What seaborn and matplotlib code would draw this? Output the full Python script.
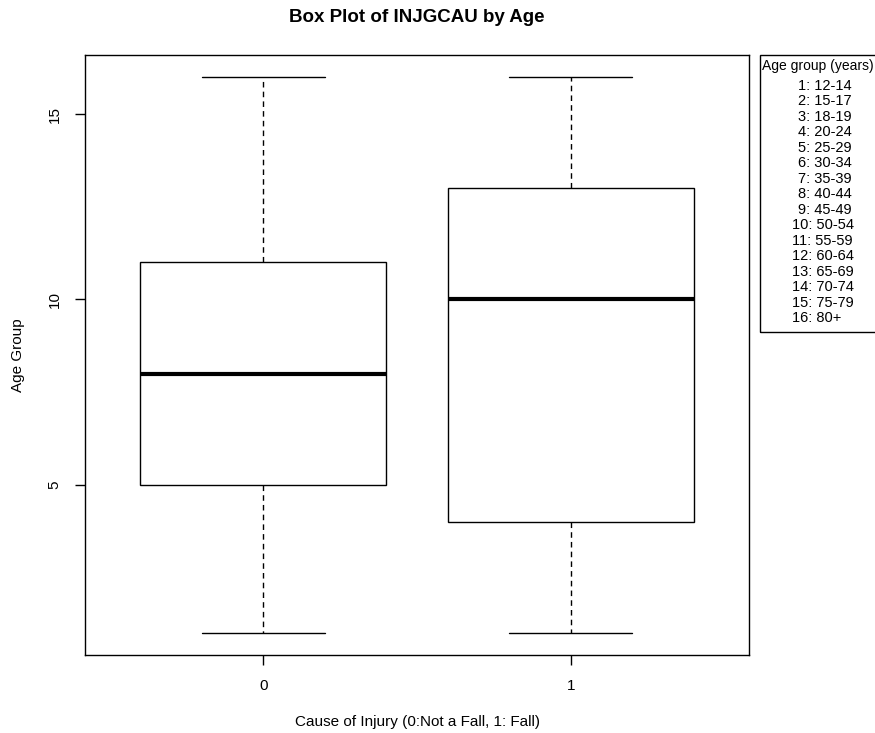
import matplotlib
matplotlib.use("Agg")
import matplotlib.pyplot as plt
from matplotlib.patches import Rectangle
import pandas as pd
import seaborn as sns

# five-number summaries (min, Q1, median, Q3, max)
not_fall_ages = [1, 5, 8, 11, 16]
fall_ages = [1, 4, 10, 13, 16]
cause_labels = ["0", "1"]

age_groups = ["12-14", "15-17", "18-19", "20-24", "25-29", "30-34", "35-39", "40-44",
              "45-49", "50-54", "55-59", "60-64", "65-69", "70-74", "75-79", "80+"]

df = pd.DataFrame({
    "cause": [cause_labels[0]] * len(not_fall_ages) + [cause_labels[1]] * len(fall_ages),
    "age": not_fall_ages + fall_ages,
})

sns.set_style("ticks")
plt.rcParams["font.family"] = ["Liberation Sans", "DejaVu Sans"]
plt.rcParams["text.color"] = "black"
plt.rcParams["axes.labelcolor"] = "black"

W, H = 875, 733
fig = plt.figure(figsize=(W / 100, H / 100), dpi=100)
ax = fig.add_axes([85 / W, 1 - 655 / H, (749 - 85) / W, (655 - 55) / H])

sns.boxplot(data=df, x="cause", y="age", order=cause_labels, width=0.8,
            color="white", saturation=1, linecolor="black", linewidth=1,
            showfliers=False, whis=1.5,
            whiskerprops={"linestyle": (0, (4, 3))},
            medianprops={"linewidth": 3, "solid_capstyle": "butt"},
            ax=ax)

ax.set_xlim(-0.58, 1.58)
ax.set_ylim(0.4, 16.6)
ax.set_yticks([5, 10, 15])
ax.set_yticklabels(["5", "10", "15"], rotation=90, va="center")
for s in ax.spines.values():
    s.set_visible(True)
    s.set_linewidth(1)
    s.set_color("black")
ax.tick_params(axis="both", direction="out", length=7, width=1, labelsize=11, pad=10, colors="black")

ax.set_xlabel("Cause of Injury (0:Not a Fall, 1: Fall)", fontsize=11, labelpad=16)
ax.set_ylabel("Age Group", fontsize=11, labelpad=16)
fig.text(417 / W, 1 - 17 / H, "Box Plot of INJGCAU by Age", ha="center", va="center",
         fontsize=13.5, fontweight="bold")

# legend box at the right edge (its right side runs off the figure, as in the original)
fig.patches.append(Rectangle((760 / W, 1 - 332 / H), 140 / W, (332 - 55) / H,
                             transform=fig.transFigure, fill=False, edgecolor="black",
                             linewidth=1))
fig.text(762 / W, 1 - 66 / H, "Age group (years)", ha="left", va="center", fontsize=10)
for i, grp in enumerate(age_groups):
    x0 = 798 if i < 9 else 792
    fig.text(x0 / W, 1 - (86 + i * 15.47) / H, f"{i + 1}: {grp}", ha="left", va="center",
             fontsize=10.5)

fig.savefig("out.png", dpi=100)
